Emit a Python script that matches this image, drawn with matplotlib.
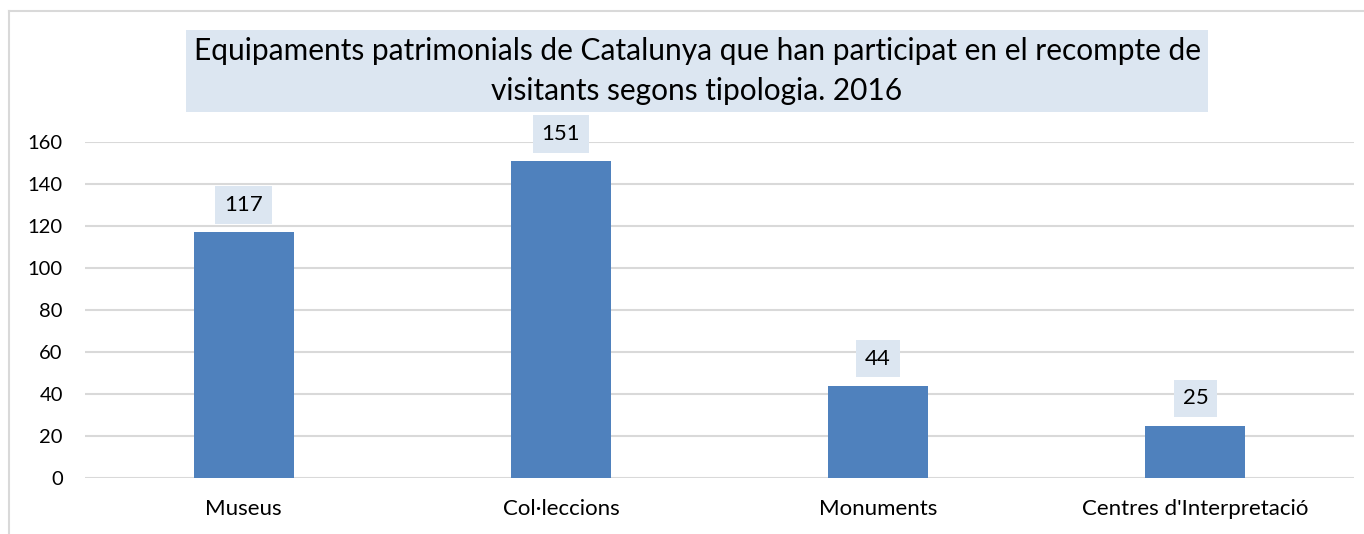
import matplotlib
matplotlib.use("Agg")
import matplotlib.pyplot as plt
import numpy as np
from matplotlib.lines import Line2D

categories = ["Museus", "Col·leccions", "Monuments", "Centres d'Interpretació"]
values = [117, 151, 44, 25]
yticks = [0, 20, 40, 60, 80, 100, 120, 140, 160]
title = "Equipaments patrimonials de Catalunya que han participat en el recompte de\nvisitants segons tipologia. 2016"

BAR = "#4F81BD"
BOX = "#DCE6F1"
GRID = "#D9D9D9"

plt.rcParams["font.family"] = ["Lato", "DejaVu Sans"]

W, H = 1364, 534
fig = plt.figure(figsize=(W / 100, H / 100), dpi=100)
ax = fig.add_axes([85 / W, 1 - 478 / H, (1354 - 85) / W, (478 - 142) / H])

x = np.arange(len(categories))
ax.bar(x, values, width=0.315, color=BAR, zorder=2)
ax.set_xlim(-0.5, len(categories) - 0.5)
ax.set_ylim(0, 160)
ax.set_yticks(yticks)
ax.set_xticks(x)
ax.set_xticklabels(categories, fontsize=16)
ax.tick_params(axis="y", labelsize=14.5, length=0, pad=16)
ax.tick_params(axis="x", length=0, pad=15)
ax.grid(True, axis="y", color=GRID, linewidth=1.5, zorder=0)
for s in ax.spines.values():
    s.set_visible(False)

for i, v in enumerate(values):
    ax.annotate(f"{v}", (x[i], v), xytext=(0, 19.5), textcoords="offset points",
                ha="center", va="center", fontsize=16, zorder=4,
                bbox=dict(boxstyle="square,pad=0.4", fc=BOX, ec="none"))

fig.text(697 / W, 1 - 71 / H, title, ha="center", va="center", fontsize=21.5,
         linespacing=1.5,
         bbox=dict(boxstyle="square,pad=0.25", fc=BOX, ec="none"))

# chart border (left and top edges visible)
fig.add_artist(Line2D([9 / W, 9 / W], [0, 1 - 11 / H], transform=fig.transFigure, color=GRID, lw=1.5))
fig.add_artist(Line2D([9 / W, 1], [1 - 11 / H, 1 - 11 / H], transform=fig.transFigure, color=GRID, lw=1.5))

fig.savefig("out.png", dpi=100, facecolor="white")
